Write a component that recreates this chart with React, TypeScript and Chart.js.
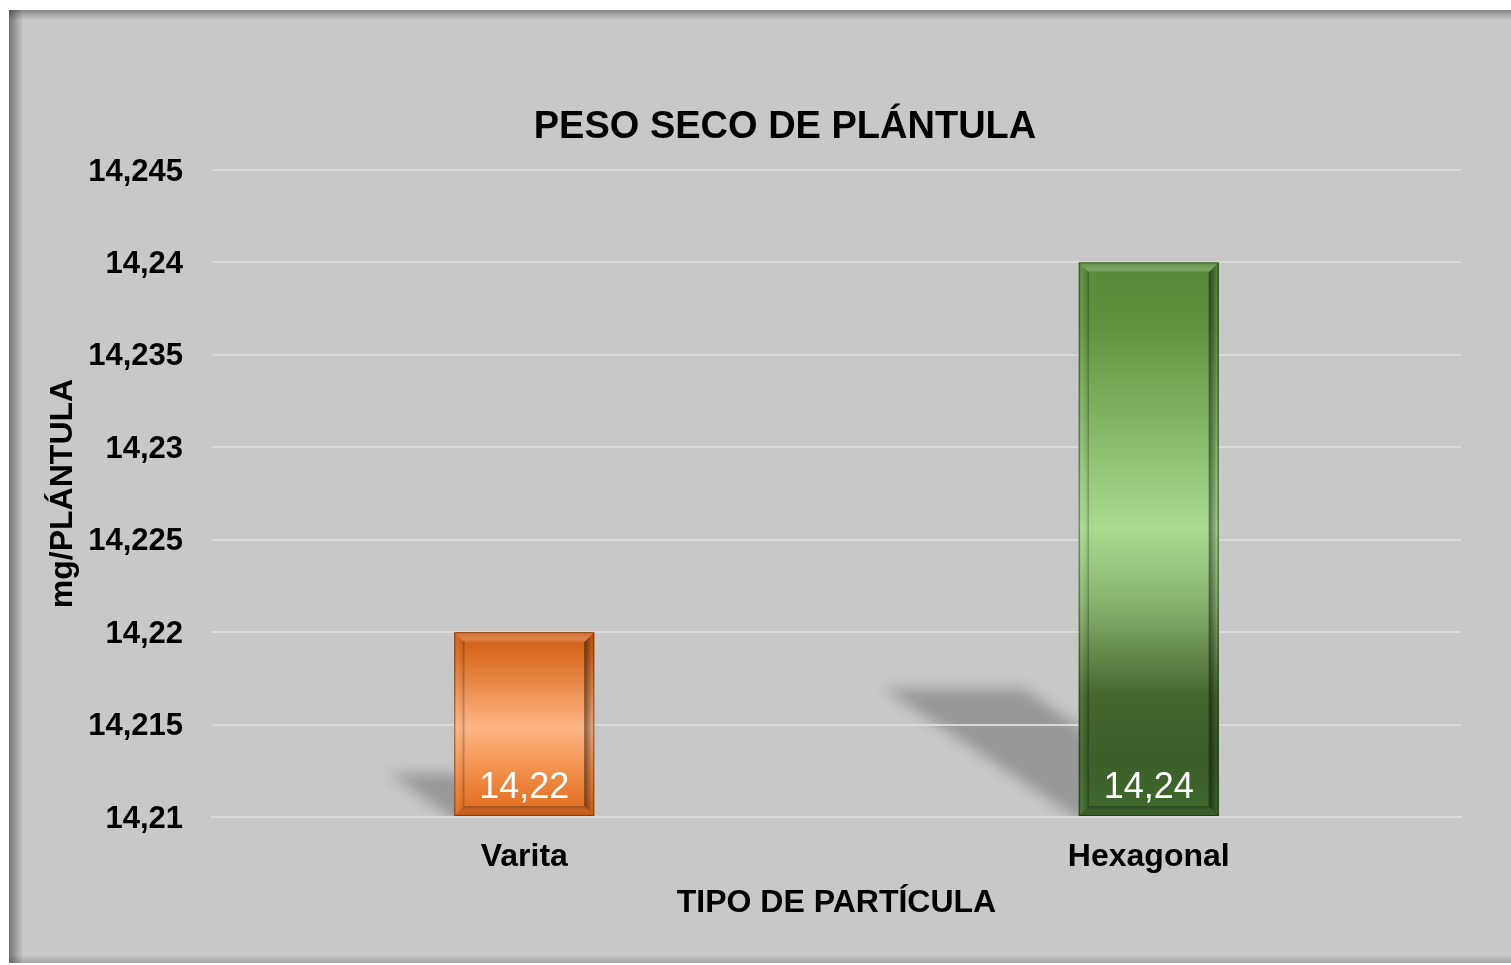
import React, { useEffect, useRef } from 'react';
import { Chart, registerables } from 'chart.js';

Chart.register(...registerables);

// ---- data ----
const categories: string[] = ['Varita', 'Hexagonal'];
const values: number[] = [14.22, 14.24];
const yMin = 14.21;
const yMax = 14.245;
const yStep = 0.005;
const chartTitle = 'PESO SECO DE PLÁNTULA';
const xTitle = 'TIPO DE PARTÍCULA';
const yTitle = 'mg/PLÁNTULA';

// ---- styles ----
const FONT = '"Liberation Sans", Arial, Helvetica, sans-serif';
const baseColors = ['#e06c20', '#4e7a34'];
const barStops: [number, string][][] = [
  [
    [0, '#cf5f19'],
    [0.12, '#d96b22'],
    [0.52, '#ffb684'],
    [0.78, '#f08b44'],
    [1, '#e06a1e'],
  ],
  [
    [0, '#578838'],
    [0.12, '#62923f'],
    [0.3, '#84b767'],
    [0.48, '#aadb90'],
    [0.62, '#87b06d'],
    [0.78, '#46682e'],
    [0.9, '#3c5e29'],
    [1, '#406b2e'],
  ],
];

const fmt = (v: number) => Number(v.toFixed(3)).toString().replace('.', ',');

function paintBar(ctx: CanvasRenderingContext2D, L: number, T: number, R: number, B: number, stops: [number, string][]) {
  const b = 10;
  ctx.save();
  const g = ctx.createLinearGradient(0, T, 0, B);
  stops.forEach(([o, c]) => g.addColorStop(o, c));
  ctx.fillStyle = g;
  ctx.fillRect(L, T, R - L, B - T);

  // left bevel
  let lg = ctx.createLinearGradient(L, 0, L + b, 0);
  lg.addColorStop(0, 'rgba(0,0,0,0.18)');
  lg.addColorStop(0.3, 'rgba(255,255,255,0.08)');
  lg.addColorStop(0.8, 'rgba(0,0,0,0.05)');
  lg.addColorStop(1, 'rgba(0,0,0,0.35)');
  ctx.fillStyle = lg;
  ctx.beginPath();
  ctx.moveTo(L, T); ctx.lineTo(L + b, T + b); ctx.lineTo(L + b, B - b); ctx.lineTo(L, B); ctx.closePath();
  ctx.fill();

  // right bevel
  lg = ctx.createLinearGradient(R - b, 0, R, 0);
  lg.addColorStop(0, 'rgba(0,0,0,0.5)');
  lg.addColorStop(0.6, 'rgba(0,0,0,0.2)');
  lg.addColorStop(0.8, 'rgba(0,0,0,0.08)');
  lg.addColorStop(1, 'rgba(0,0,0,0.3)');
  ctx.fillStyle = lg;
  ctx.beginPath();
  ctx.moveTo(R, T); ctx.lineTo(R, B); ctx.lineTo(R - b, B - b); ctx.lineTo(R - b, T + b); ctx.closePath();
  ctx.fill();

  // top bevel
  lg = ctx.createLinearGradient(0, T, 0, T + b);
  lg.addColorStop(0, 'rgba(255,255,255,0.08)');
  lg.addColorStop(0.7, 'rgba(255,255,255,0.22)');
  lg.addColorStop(1, 'rgba(255,255,255,0.05)');
  ctx.fillStyle = lg;
  ctx.beginPath();
  ctx.moveTo(L, T); ctx.lineTo(R, T); ctx.lineTo(R - b, T + b); ctx.lineTo(L + b, T + b); ctx.closePath();
  ctx.fill();

  // bottom bevel
  lg = ctx.createLinearGradient(0, B - b, 0, B);
  lg.addColorStop(0, 'rgba(0,0,0,0.3)');
  lg.addColorStop(0.4, 'rgba(0,0,0,0.1)');
  lg.addColorStop(1, 'rgba(0,0,0,0.15)');
  ctx.fillStyle = lg;
  ctx.beginPath();
  ctx.moveTo(L, B); ctx.lineTo(R, B); ctx.lineTo(R - b, B - b); ctx.lineTo(L + b, B - b); ctx.closePath();
  ctx.fill();

  ctx.strokeStyle = 'rgba(0,0,0,0.3)';
  ctx.lineWidth = 1;
  ctx.strokeRect(L + 0.5, T + 0.5, R - L - 1, B - T - 1);
  ctx.restore();
}

const decor = {
  id: 'decor',
  beforeDraw(chart: any) {
    const ctx: CanvasRenderingContext2D = chart.ctx;
    const W = chart.width;
    const H = chart.height;
    ctx.save();
    ctx.fillStyle = '#ffffff';
    ctx.fillRect(0, 0, W, H);
    const px = 9, py = 10, pr = W, pb = 963;
    ctx.fillStyle = '#c8c8c8';
    ctx.fillRect(px, py, pr - px, pb - py);
    let g = ctx.createLinearGradient(px, 0, px + 14, 0);
    g.addColorStop(0, 'rgba(0,0,0,0.42)');
    g.addColorStop(1, 'rgba(0,0,0,0)');
    ctx.fillStyle = g;
    ctx.fillRect(px, py, 14, pb - py);
    g = ctx.createLinearGradient(0, py, 0, py + 10);
    g.addColorStop(0, 'rgba(0,0,0,0.32)');
    g.addColorStop(1, 'rgba(0,0,0,0)');
    ctx.fillStyle = g;
    ctx.fillRect(px, py, pr - px, 10);
    g = ctx.createLinearGradient(0, pb, 0, pb - 8);
    g.addColorStop(0, 'rgba(0,0,0,0.18)');
    g.addColorStop(1, 'rgba(0,0,0,0)');
    ctx.fillStyle = g;
    ctx.fillRect(px, pb - 8, pr - px, 8);

    // bar shadows
    const meta = chart.getDatasetMeta(0);
    meta.data.forEach((el: any) => {
      const { x, y, base, width } = el.getProps(['x', 'y', 'base', 'width'], true);
      const L = x - width / 2;
      const R = x + width / 2;
      const h = base - y;
      const sh = h * 0.23;
      const dx = sh * 1.53;
      ctx.save();
      ctx.beginPath();
      ctx.rect(0, 0, W, base);
      ctx.clip();
      ctx.filter = 'blur(7px)';
      ctx.fillStyle = 'rgba(0,0,0,0.24)';
      ctx.beginPath();
      ctx.moveTo(L + 4, base + 6);
      ctx.lineTo(L - dx, base - sh);
      ctx.lineTo(R - dx, base - sh);
      ctx.lineTo(R, base + 6);
      ctx.closePath();
      ctx.fill();
      ctx.restore();
    });
    ctx.restore();
  },
  afterDatasetsDraw(chart: any) {
    const ctx: CanvasRenderingContext2D = chart.ctx;
    const meta = chart.getDatasetMeta(0);
    meta.data.forEach((el: any, i: number) => {
      const { x, y, base, width } = el.getProps(['x', 'y', 'base', 'width'], true);
      paintBar(ctx, x - width / 2, y, x + width / 2, base, barStops[i % barStops.length]);
      ctx.save();
      ctx.fillStyle = '#ffffff';
      ctx.font = `36px ${FONT}`;
      ctx.textAlign = 'center';
      ctx.textBaseline = 'alphabetic';
      ctx.fillText(fmt(values[i]), x, base - 18);
      ctx.restore();
    });
  },
  afterDraw(chart: any) {
    const ctx: CanvasRenderingContext2D = chart.ctx;
    const ca = chart.chartArea;
    ctx.save();
    ctx.fillStyle = '#000000';
    ctx.textAlign = 'center';
    ctx.textBaseline = 'alphabetic';
    ctx.font = `bold 38px ${FONT}`;
    ctx.fillText(chartTitle, 785, 138);
    ctx.font = `bold 32px ${FONT}`;
    ctx.fillText(xTitle, (ca.left + ca.right) / 2, 912);
    ctx.translate(72, (ca.top + ca.bottom) / 2);
    ctx.rotate(-Math.PI / 2);
    ctx.fillText(yTitle, 0, 0);
    ctx.restore();
  },
};

export default function App() {
  const ref = useRef<HTMLCanvasElement | null>(null);
  useEffect(() => {
    if (!ref.current) return;
    const chart = new Chart(ref.current, {
      type: 'bar',
      data: {
        labels: categories,
        datasets: [
          {
            data: values,
            base: yMin,
            backgroundColor: baseColors,
            borderWidth: 0,
            categoryPercentage: 1,
            barPercentage: 0.224,
          },
        ],
      },
      options: {
        responsive: false,
        animation: false,
        devicePixelRatio: 1,
        layout: { padding: { top: 170, right: 50, left: 0, bottom: 0 } },
        plugins: {
          legend: { display: false },
          title: { display: false },
          tooltip: { enabled: false },
        },
        scales: {
          x: {
            grid: { display: false, drawTicks: false },
            border: { display: true, color: '#dadada', width: 2 },
            ticks: {
              color: '#000',
              font: { family: FONT, size: 32, weight: 'bold' },
              padding: 21,
              maxRotation: 0,
            },
            afterFit: (s: any) => { s.height = 148; },
          },
          y: {
            min: yMin,
            max: yMax,
            grid: { color: '#dadada', lineWidth: 2, drawTicks: false },
            border: { display: false },
            ticks: {
              stepSize: yStep,
              color: '#000',
              font: { family: FONT, size: 31, weight: 'bold' },
              padding: 29,
              labelOffset: 2,
              callback: (v: any) => fmt(Number(v)),
            },
            afterFit: (s: any) => { s.width = 212; },
          },
        },
      },
      plugins: [decor],
    });
    return () => chart.destroy();
  }, []);
  return (
    <canvas
      ref={ref}
      width={1511}
      height={965}
      style={{ position: 'fixed', left: 0, top: 0, width: 1511, height: 965 }}
    />
  );
}
